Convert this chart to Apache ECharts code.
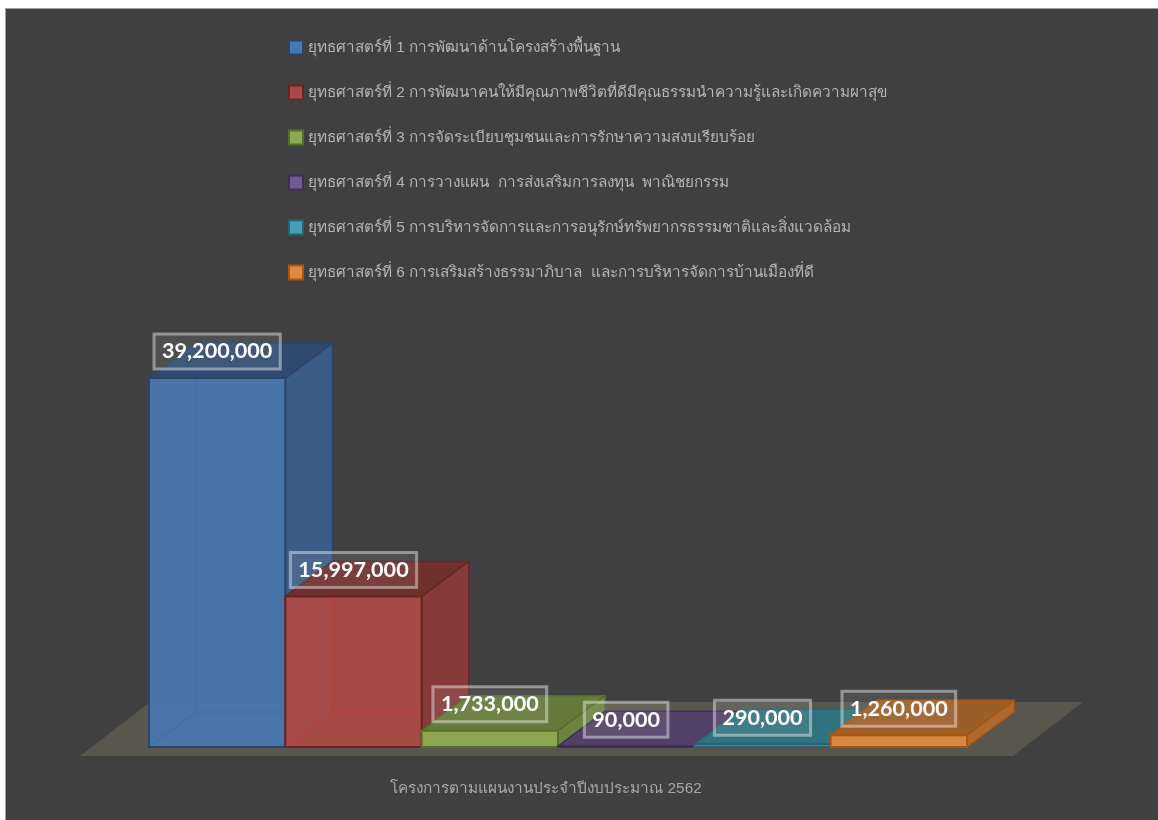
<!DOCTYPE html>
<html>
<head>
<meta charset="utf-8">
<title>โครงการตามแผนงานประจำปีงบประมาณ 2562</title>
<script src="https://cdn.jsdelivr.net/npm/echarts@6/dist/echarts.min.js"></script>
<style>
    html, body { margin: 0; padding: 0; background: #fff; }
    #frame { position: absolute; left: 5px; top: 8px; right: 0; bottom: 0; background: #404040; border-left: 1px solid #a0a0a0; border-top: 1px solid #a0a0a0; }
    #chart { position: absolute; left: 0; top: 0; width: 1158px; height: 820px; }
</style>
</head>
<body>
<div id="frame"></div>
<div id="chart"></div>
<script>
const categories = ['โครงการตามแผนงานประจำปีงบประมาณ 2562'];
const strategies = [
    'ยุทธศาสตร์ที่ 1 การพัฒนาด้านโครงสร้างพื้นฐาน',
    'ยุทธศาสตร์ที่ 2 การพัฒนาคนให้มีคุณภาพชีวิตที่ดีมีคุณธรรมนำความรู้และเกิดความผาสุข',
    'ยุทธศาสตร์ที่ 3 การจัดระเบียบชุมชนและการรักษาความสงบเรียบร้อย',
    'ยุทธศาสตร์ที่ 4 การวางแผน  การส่งเสริมการลงทุน  พาณิชยกรรม',
    'ยุทธศาสตร์ที่ 5 การบริหารจัดการและการอนุรักษ์ทรัพยากรธรรมชาติและสิ่งแวดล้อม',
    'ยุทธศาสตร์ที่ 6 การเสริมสร้างธรรมาภิบาล  และการบริหารจัดการบ้านเมืองที่ดี'
];
const budgets = [39200000, 15997000, 1733000, 90000, 290000, 1260000];

const frontColors = ['#4a77ae', '#ab4a46', '#8fab52', '#735a96', '#46a0b8', '#e08a40'];
const sideColors = ['#3b5c84', '#863a39', '#6d8340', '#574470', '#37798b', '#ad692f'];
const topColors = ['#2f4a6e', '#6f2f2c', '#647a3a', '#524068', '#30727f', '#9c5e29'];
const edgeColors = ['#2a4569', '#652623', '#566f2b', '#3f2f55', '#276475', '#a9560f'];
const innerColors = ['#4370a9', '#b5423f', '#8fab52', '#735a96', '#46a0b8', '#e08a40'];

const thaiFont = '"Liberation Sans", "DejaVu Sans", "Noto Sans", sans-serif';
const depthX = 47;
const depthY = -35;

const myChart = echarts.init(document.getElementById('chart'), null, { renderer: 'canvas' });

function poly(points, fill, stroke, lineWidth) {
    return {
        type: 'polygon',
        shape: { points: points },
        style: { fill: fill, stroke: stroke, lineWidth: lineWidth || 0, lineJoin: 'round' },
        silent: true
    };
}

function line(points, color) {
    return {
        type: 'polyline',
        shape: { points: points },
        style: { fill: null, stroke: color, lineWidth: 1.5 },
        silent: true
    };
}

function renderFloor(params) {
    const c = params.coordSys;
    const bottom = c.y + c.height;
    return poly([
        [c.x - 69, bottom + 9],
        [c.x + c.width + 46, bottom + 9],
        [c.x + c.width + 116, bottom - 45],
        [c.x + 1, bottom - 45]
    ], '#59564d');
}

function renderBar(index) {
    return function (params, api) {
        const center = api.coord([0, 0]);
        const band = api.size([1, 0])[0];
        const w = band / strategies.length;
        const x0 = center[0] - band / 2 + index * w;
        const x1 = x0 + w;
        const y0 = center[1];
        const y1 = api.coord([0, api.value(1)])[1];
        const edge = edgeColors[index];

        const children = [
            poly([[x1, y0], [x1 + depthX, y0 + depthY], [x1 + depthX, y1 + depthY], [x1, y1]], sideColors[index], edge, 1.5),
            poly([[x0, y1], [x1, y1], [x1 + depthX, y1 + depthY], [x0 + depthX, y1 + depthY]], topColors[index], edge, 1.5),
            {
                type: 'rect',
                shape: { x: x0, y: y1, width: w, height: y0 - y1 },
                style: { fill: echarts.color.modifyAlpha(frontColors[index], 0.95), stroke: edge, lineWidth: 2 },
                silent: true
            }
        ];

        // back edges seen through the front, only on bars taller than the depth
        if (y0 + depthY > y1) {
            const innerColor = innerColors[index];
            children.push(line([[x0 + 1, y0 - 1], [x0 + depthX, y0 + depthY], [x0 + depthX, y1 + 1]], innerColor));
            children.push(line([[x0 + depthX, y0 + depthY], [x1 - 1, y0 + depthY]], innerColor));
        }

        children.push({
            type: 'text',
            z2: 10,
            style: {
                x: (x0 + x1) / 2,
                y: y1 - 26.5,
                text: api.value(1).toLocaleString('en-US'),
                align: 'center',
                verticalAlign: 'middle',
                font: 'bold 21.6px Lato, "Open Sans", sans-serif',
                fill: '#fff',
                backgroundColor: 'rgba(255,255,255,0.08)',
                borderColor: 'rgba(255,255,255,0.42)',
                borderWidth: 1.5,
                padding: [7, 8, 6, 8]
            },
            silent: true
        });
        return { type: 'group', children: children };
    };
}

const barSeries = strategies.map(function (name, i) {
    return {
        name: name,
        type: 'custom',
        coordinateSystem: 'cartesian2d',
        data: [[0, budgets[i]]],
        encode: { x: 0, y: 1 },
        clip: false,
        itemStyle: { color: frontColors[i], borderColor: edgeColors[i], borderWidth: 2 },
        renderItem: renderBar(i),
        z: 3 + i
    };
});

const option = {
    animation: false,
    backgroundColor: 'transparent',
    legend: {
        orient: 'vertical',
        left: 288,
        top: 39,
        padding: 0,
        itemWidth: 14,
        itemHeight: 14,
        itemGap: 28,
        icon: 'rect',
        data: strategies,
        selectedMode: false,
        textStyle: {
            color: '#b4b4b4',
            fontFamily: thaiFont,
            fontSize: 15.3,
            lineHeight: 17
        }
    },
    grid: {
        left: 149,
        right: 191,
        top: 370.5,
        bottom: 73
    },
    xAxis: {
        type: 'category',
        data: categories,
        axisLine: { show: false },
        axisTick: { show: false },
        axisLabel: {
            color: '#a8a8a8',
            fontFamily: thaiFont,
            fontSize: 15.35,
            margin: 34,
            padding: [0, 24, 0, 0]
        }
    },
    yAxis: {
        type: 'value',
        show: false,
        min: 0,
        max: 40000000,
        splitLine: { show: false }
    },
    series: [{
        type: 'custom',
        coordinateSystem: 'cartesian2d',
        data: [[0, 0]],
        encode: { x: 0, y: 1 },
        clip: false,
        silent: true,
        renderItem: renderFloor,
        z: 1
    }].concat(barSeries)
};

myChart.setOption(option);
</script>
</body>
</html>
